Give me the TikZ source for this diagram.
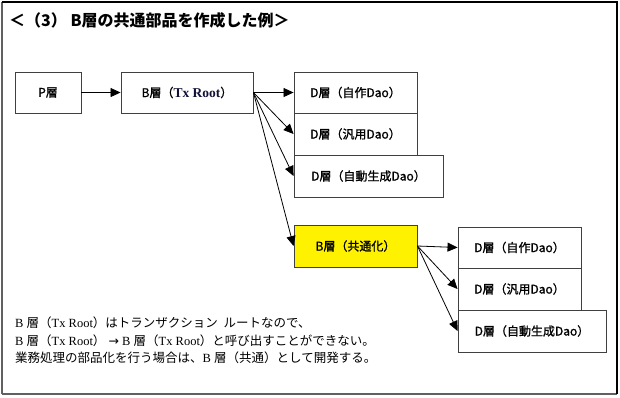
\documentclass[tikz,border=0pt]{standalone}
\usepackage{fontspec}
\setmainfont{Liberation Serif}
\newfontfamily\jp{Noto Sans CJK JP}
\newfontfamily\jpb[FakeBold=1.2]{Noto Sans CJK JP}
\newfontfamily\symb{DejaVu Sans}
\usetikzlibrary{arrows.meta}
\definecolor{framegray}{HTML}{606060}
\definecolor{boxgray}{HTML}{404040}
\definecolor{navytext}{HTML}{101038}
\begin{document}
\begin{tikzpicture}[x=1pt,y=-1pt,
  box/.style={draw=boxgray,line width=0.9pt,fill=white,inner sep=0pt,font=\jpb\fontsize{12}{14}\selectfont},
  arr/.style={line width=0.8pt,-{Triangle[length=10pt,width=9pt]}},
  note/.style={anchor=west,inner sep=0pt,font=\fontsize{12.5}{14}\selectfont}]
\useasboundingbox (0,0) rectangle (620,397);
% frame
\draw[framegray,line width=1.5pt] (2,394) -- (617,394);
\draw[framegray,line width=1.5pt] (2,2) -- (2,394);
\draw[black,line width=1.2pt] (2,2) -- (617,2) -- (617,394);
% title
\node[anchor=west,inner sep=0pt,font=\jp\bfseries\fontsize{16}{18}\selectfont] (title) at (9,20) {＜（3） B層の共通部品を作成した例＞};
% boxes
\node[box,minimum width=66pt,minimum height=41pt] (p) at (48,92.5) {P層};
\node[box,minimum width=132pt,minimum height=41pt] (b) at (187,92.5) {B層（{\rmfamily\bfseries\fontsize{13.5}{15}\selectfont\color{navytext}Tx Root}）};
\node[box,minimum width=123pt,minimum height=41pt] (d1) at (355.5,92.5) {D層（自作Dao）};
\node[box,minimum width=123pt,minimum height=42pt] (d2) at (355.5,134) {D層（汎用Dao）};
\node[box,minimum width=149pt,minimum height=42pt] (d3) at (368.5,176) {D層（自動生成Dao）};
\node[box,fill=yellow,minimum width=123pt,minimum height=42pt] (bc) at (355.5,246) {B層（共通化）};
\node[box,minimum width=123pt,minimum height=41pt] (d4) at (519.5,247.5) {D層（自作Dao）};
\node[box,minimum width=123pt,minimum height=42pt] (d5) at (519.5,289) {D層（汎用Dao）};
\node[box,minimum width=148pt,minimum height=42pt] (d6) at (532,331) {D層（自動生成Dao）};
% arrows
\draw[arr] (p.east) -- (b.west);
\draw[arr] (b.east) -- (d1.west);
\draw[arr] (b.east) -- (d2.west);
\draw[arr] (b.east) -- (d3.west);
\draw[arr] (b.east) -- (bc.west);
\draw[arr] (bc.east) -- (d4.west);
\draw[arr] (bc.east) -- (d5.west);
\draw[arr] (bc.east) -- (d6.west);
% notes
\node[note] (n1) at (15,323) {B {\jp 層（}Tx Root{\jp ）はトランザクション\ \ ルートなので、}};
\node[note] (n2) at (15,341) {B {\jp 層（}Tx Root{\jp ）}\ {\symb →}\ B {\jp 層（}Tx Root{\jp ）と呼び出すことができない。}};
\node[note] (n3) at (15,358) {{\jp 業務処理の部品化を行う場合は、}B {\jp 層（共通）として開発する。}};
\end{tikzpicture}
\end{document}
